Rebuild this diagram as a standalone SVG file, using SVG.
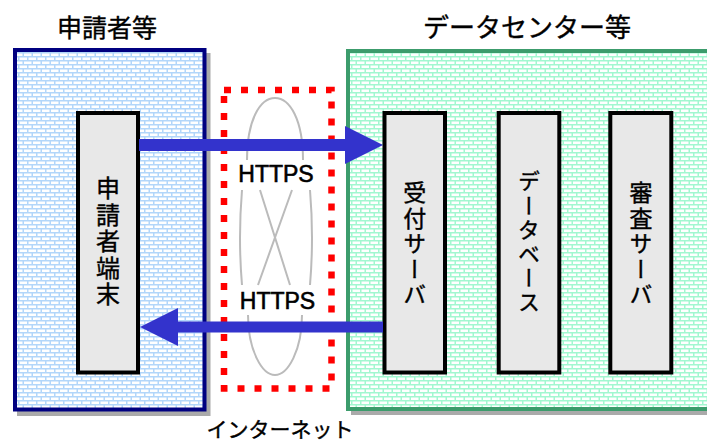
<svg xmlns="http://www.w3.org/2000/svg" width="707" height="443" viewBox="0 0 707 443">
  <style>
    .jp { font-family: "Noto Sans CJK JP", "Noto Sans", sans-serif; fill: #000; stroke: #000; stroke-width: 0.4; }
    .title { font-size: 25px; }
    .vert { writing-mode: vertical-rl; font-size: 23px; letter-spacing: 2.5px; }
    .lat { font-family: "Liberation Sans", Arial, sans-serif; font-size: 23px; fill: #000; stroke: #000; stroke-width: 0.6; text-anchor: middle; }
    .node { fill: #e8e8e8; stroke: #000; stroke-width: 4; }
    .shadow { fill: #aaaaaa; }
    .arrow { fill: #3333cc; }
    .loop { fill: none; stroke: #bbbbbb; stroke-width: 2; }
  </style>
  <defs>
    <pattern id="brickBlue" patternUnits="userSpaceOnUse" width="9" height="8">
      <rect width="9" height="8" fill="#b2d6fa"/>
      <rect x="1.5" y="1.5" width="7.5" height="2.5" fill="#fff"/>
      <rect x="0" y="5.5" width="4.5" height="2.5" fill="#fff"/>
      <rect x="6" y="5.5" width="3" height="2.5" fill="#fff"/>
    </pattern>
    <pattern id="brickGreen" patternUnits="userSpaceOnUse" width="9" height="8">
      <rect width="9" height="8" fill="#a2f7d0"/>
      <rect x="1.5" y="1.5" width="7.5" height="2.5" fill="#fff"/>
      <rect x="0" y="5.5" width="4.5" height="2.5" fill="#fff"/>
      <rect x="6" y="5.5" width="3" height="2.5" fill="#fff"/>
    </pattern>
  </defs>
  <rect width="707" height="443" fill="#fff"/>

  <g id="applicant">
    <rect class="shadow" x="17" y="53" width="193.5" height="363"/>
    <rect x="15" y="50" width="189.5" height="359.5" fill="url(#brickBlue)" stroke="#000080" stroke-width="4"/>
    <text class="jp title" x="107" y="37" text-anchor="middle">申請者等</text>
  </g>

  <g id="datacenter">
    <rect class="shadow" x="351" y="54" width="400" height="361"/>
    <rect x="348" y="51" width="400" height="358" fill="url(#brickGreen)" stroke="#3c9c6c" stroke-width="4"/>
    <text class="jp title" x="527" y="37" text-anchor="middle" style="font-size:26px">データセンター等</text>
  </g>

  <g id="internet">
    <rect x="224" y="90" width="107.5" height="298.5" fill="#fff" stroke="#ff0000" stroke-width="6.5" stroke-dasharray="7 10"/>
    <path class="loop" d="M247,160 C247,120 260,98 275,98 C290,98 303,120 303,160"/>
    <path class="loop" d="M242,190 Q238,238 242,285 M310,190 Q314,238 310,285"/>
    <path class="loop" d="M260,190 L290,285 M292,190 L258,285"/>
    <path class="loop" d="M248,315 C248,350 262,375 275,375 C288,375 302,350 302,315"/>
    <text class="jp" x="280" y="437" font-size="21" text-anchor="middle">インターネット</text>
  </g>

  <g id="terminal">
    <rect class="node" x="78" y="113" width="60" height="259.5"/>
    <text class="jp vert" x="108" y="176" style="font-size:24px">申請者端末</text>
  </g>

  <g id="reception">
    <rect class="node" x="384.5" y="113" width="60.5" height="259.5"/>
    <text class="jp vert" x="414.75" y="181">受付サーバ</text>
  </g>

  <g id="database">
    <rect class="node" x="498.7" y="113" width="60.6" height="259.5"/>
    <text class="jp vert" x="529" y="170" style="font-size:22px;letter-spacing:2.2px">データベース</text>
  </g>

  <g id="review">
    <rect class="node" x="610.3" y="113" width="61" height="259.5"/>
    <text class="jp vert" x="641" y="181">審査サーバ</text>
  </g>

  <g id="connectors">
    <path class="arrow" d="M139,139 H345 V126 L383,145 L345,164 V151 H139 Z"/>
    <path class="arrow" d="M383,321.5 H178 V308 L140,327 L178,346 V332.5 H383 Z"/>
    <text class="lat" x="276" y="182">HTTPS</text>
    <text class="lat" x="277.5" y="309">HTTPS</text>
  </g>
</svg>
